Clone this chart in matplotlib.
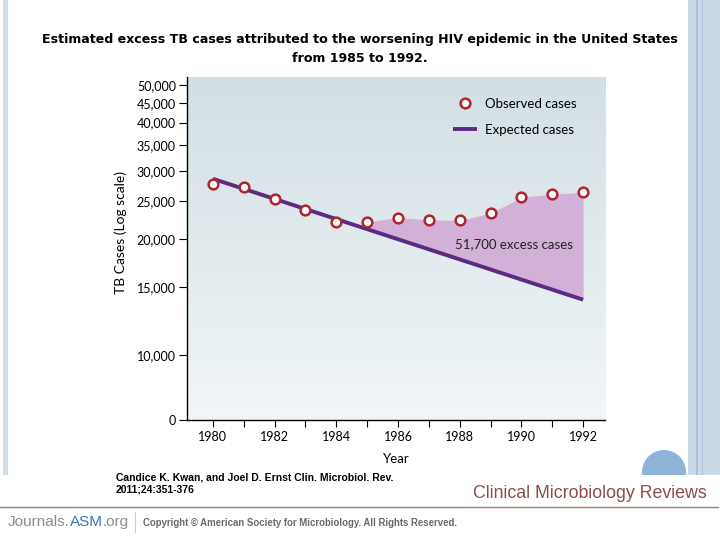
import matplotlib
matplotlib.use("Agg")
import matplotlib.pyplot as plt
import numpy as np
from matplotlib.patches import Rectangle, Circle
from matplotlib.ticker import FixedLocator, NullLocator

# data
years = [1980, 1981, 1982, 1983, 1984, 1985, 1986, 1987, 1988, 1989, 1990, 1991, 1992]
observed = [27800, 27200, 25400, 23800, 22100, 22100, 22700, 22400, 22300, 23300, 25600, 26100, 26400]
expected = [28600, 26900, 25400, 23900, 22500, 21200, 19900, 18800, 17700, 16700, 15700, 14800, 13900]
excess_start = 5  # fill from 1985 onward

y_ticks = [6780, 10000, 15000, 20000, 25000, 30000, 35000, 40000, 45000, 50000]
y_labels = ["0", "10,000", "15,000", "20,000", "25,000", "30,000", "35,000", "40,000", "45,000", "50,000"]
x_labels = [1980, 1982, 1984, 1986, 1988, 1990, 1992]

line_col = "#5b2b84"
fill_col = "#d3b0d7"
mark_col = "#ad2530"
tick_font = "Lato"
foot_font = "Liberation Sans"

fig = plt.figure(figsize=(7.2, 5.4), dpi=100)

# slide background (pixel coordinates)
bg = fig.add_axes([0, 0, 1, 1])
bg.set_xlim(0, 720)
bg.set_ylim(540, 0)
bg.axis("off")
bg.add_patch(Rectangle((3, 0), 5, 475, color="#cfdbe6", lw=0))
bg.add_patch(Rectangle((688, 0), 32, 475, color="#cbd9e6", lw=0))
bg.add_patch(Rectangle((696, 0), 1.5, 475, color="#a9c0d6", lw=0))
bg.add_patch(Rectangle((702, 0), 1.2, 475, color="#a9c0d6", lw=0))
bg.add_patch(Circle((664, 472), 22, color="#8fb3d6", lw=0))
bg.add_patch(Rectangle((0, 475), 718, 65, color="white", lw=0))
bg.plot([0, 718], [507, 507], color="#9c7c78", lw=1)
bg.plot([135, 135], [512, 532], color="#cccccc", lw=0.8)

# title
fig.text(0.5, 1 - 40 / 540, "Estimated excess TB cases attributed to the worsening HIV epidemic in the United States",
         ha="center", va="center", fontsize=9.05, fontweight="bold", family="DejaVu Sans")
fig.text(0.5, 1 - 58 / 540, "from 1985 to 1992.",
         ha="center", va="center", fontsize=9.05, fontweight="bold", family="DejaVu Sans")

# citation and footer
bg.text(116, 472, "Candice K. Kwan, and Joel D. Ernst Clin. Microbiol. Rev.\n2011;24:351-376",
        ha="left", va="top", fontsize=7.5, fontweight="bold", family=foot_font, linespacing=1.25)
bg.text(707, 494, "Clinical Microbiology Reviews", ha="right", va="center",
        fontsize=12.8, color="#8a4d4a", family=foot_font)
j1 = bg.text(8, 522, "Journals.", ha="left", va="center", fontsize=11, color="#8c8c8c", family=foot_font)
j2 = bg.annotate("ASM", xy=(1, 0), xycoords=j1, va="bottom", ha="left",
                 fontsize=11, color="#3d73b4", family=foot_font)
bg.annotate(".org", xy=(1, 0), xycoords=j2, va="bottom", ha="left",
            fontsize=11, color="#8c8c8c", family=foot_font)
bg.text(143, 523, "Copyright \u00a9 American Society for Microbiology. All Rights Reserved.",
        ha="left", va="center", fontsize=6.9, fontweight="bold", color="#6a6a6a", family=foot_font)

# main chart
ax = fig.add_axes([187 / 720, 1 - 420 / 540, (605 - 187) / 720, (420 - 77) / 540])
ax.set_zorder(2)
ax.patch.set_visible(False)
ax.set_yscale("log")
ax.set_xlim(1979.16, 1992.71)
ax.set_ylim(6780, 52500)

grad = np.linspace(0, 1, 256).reshape(-1, 1)
top = np.array([210, 223, 228]) / 255
bot = np.array([241, 246, 247]) / 255
img = top + (bot - top) * grad[..., None]
ax.imshow(img, extent=[0, 1, 0, 1], transform=ax.transAxes, aspect="auto", zorder=0, origin="upper")

ax.fill_between(years[excess_start:], expected[excess_start:], observed[excess_start:],
                color=fill_col, lw=0, zorder=1)
ax.plot([years[0], years[-1]], [expected[0], expected[-1]], color=line_col, lw=2.8,
        solid_capstyle="butt", zorder=2, label="Expected cases")
ax.plot(years, observed, ls="none", marker="o", ms=7, mfc="white", mec=mark_col, mew=1.8,
        zorder=3, label="Observed cases")

ax.text(1987.85, 19400, "51,700 excess cases", ha="left", va="center", fontsize=9.5,
        family=tick_font, color="#222222", zorder=4)

h, l = ax.get_legend_handles_labels()
leg = ax.legend(h[::-1], l[::-1], loc="upper left", bbox_to_anchor=(441 / 720, 1 - 86 / 540),
                bbox_transform=fig.transFigure, frameon=False, handlelength=1.8,
                handletextpad=0.6, labelspacing=1.05, prop={"family": tick_font, "size": 9.5})

ax.yaxis.set_major_locator(FixedLocator(y_ticks))
ax.yaxis.set_minor_locator(NullLocator())
ax.set_yticklabels(y_labels, family=tick_font, fontsize=9)
ax.set_xticks(years)
ax.set_xticklabels([str(y) if y in x_labels else "" for y in years], family=tick_font, fontsize=9)
ax.tick_params(axis="y", direction="out", length=6, width=0.8, pad=2)
ax.tick_params(axis="x", direction="out", length=5, width=0.8, pad=3)
for s in ["top", "right"]:
    ax.spines[s].set_visible(False)
for s in ["left", "bottom"]:
    ax.spines[s].set_linewidth(1.0)
ax.set_xlabel("Year", family=tick_font, fontsize=9.5, labelpad=7)
fig.text(121 / 720, 1 - 232 / 540, "TB Cases (Log scale)", rotation=90, ha="center", va="center",
         family=tick_font, fontsize=10)

fig.savefig("out.png", dpi=100)
